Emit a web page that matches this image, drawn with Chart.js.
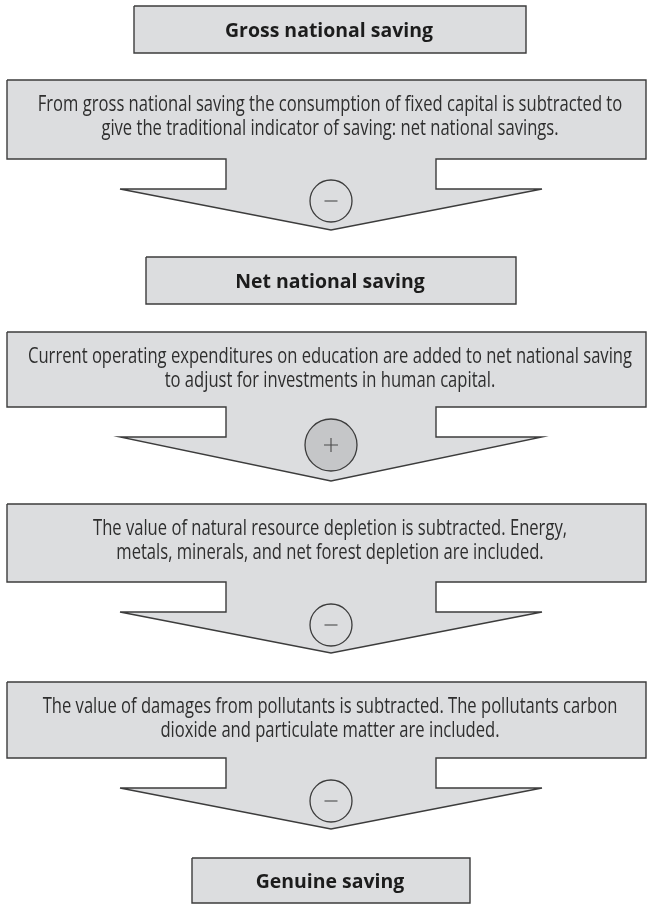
<!DOCTYPE html>
<html>
<head>
<meta charset="utf-8">
<script src="https://cdn.jsdelivr.net/npm/chart.js@4/dist/chart.umd.min.js"></script>
<style>
html,body{margin:0;padding:0;background:#ffffff;}
#wrap{width:647px;height:904px;position:relative;overflow:hidden;}
canvas{display:block;}
</style>
</head>
<body>
<div id="wrap"><canvas id="c" width="647" height="904"></canvas></div>
<script>
// ---- content (data) ----
const stageTitles = ['Gross national saving', 'Net national saving', 'Genuine saving'];
const stepTexts = [
  ['From gross national saving the consumption of fixed capital is subtracted to',
   'give the traditional indicator of saving: net national savings.'],
  ['Current operating expenditures on education are added to net national saving',
   'to adjust for investments in human capital.'],
  ['The value of natural resource depletion is subtracted. Energy,',
   'metals, minerals, and net forest depletion are included.'],
  ['The value of damages from pollutants is subtracted. The pollutants carbon',
   'dioxide and particulate matter are included.']
];
const stepOps = ['minus', 'plus', 'minus', 'minus'];

// ---- layout (diagram coordinate space = 647 x 904) ----
const CX = 331;
const titleBoxX0 = [134, 146, 192];
const titleBoxX1 = [526, 516, 470];
const titleBoxY0 = [6, 257, 858];
const titleBoxY1 = [53, 304, 903];
const stepTop = [80, 332, 504, 682];
const stepBottom = [159, 407, 582, 758];
const stepWing = [189, 437, 612, 788];
const stepTip = [230, 481, 653, 829];
const opCy = [201, 445, 625, 801];
const opR = [21, 26, 21, 21];
const BOX_X0 = 7, BOX_X1 = 646, STEM_X0 = 226, STEM_X1 = 436, WING_X0 = 120, WING_X1 = 542;

const FILL = '#dcdddf';
const EDGE = '#3c3c3c';
const PLUS_FILL = '#c5c6c8';

const datasets = [];
stageTitles.forEach((t, i) => {
  const x0 = titleBoxX0[i], x1 = titleBoxX1[i], y0 = titleBoxY0[i], y1 = titleBoxY1[i];
  datasets.push({
    type: 'scatter', label: t, showLine: true, fill: 'shape',
    data: [{x:x0,y:y0},{x:x1,y:y0},{x:x1,y:y1},{x:x0,y:y1},{x:x0,y:y0}],
    backgroundColor: FILL, borderColor: EDGE, borderWidth: 1.4,
    pointRadius: 0, borderJoinStyle: 'miter', tension: 0, clip: false, order: 5
  });
});
stepTexts.forEach((lines, i) => {
  const t = stepTop[i], b = stepBottom[i], w = stepWing[i], tip = stepTip[i];
  datasets.push({
    type: 'scatter', label: 'step' + i, showLine: true, fill: 'shape',
    data: [
      {x:BOX_X0,y:t},{x:BOX_X1,y:t},{x:BOX_X1,y:b},{x:STEM_X1,y:b},{x:STEM_X1,y:w},
      {x:WING_X1,y:w},{x:CX,y:tip},{x:WING_X0,y:w},{x:STEM_X0,y:w},{x:STEM_X0,y:b},
      {x:BOX_X0,y:b},{x:BOX_X0,y:t}
    ],
    backgroundColor: FILL, borderColor: EDGE, borderWidth: 1.4,
    pointRadius: 0, borderJoinStyle: 'miter', tension: 0, clip: false, order: 5
  });
});
datasets.push({
  type: 'bubble', label: 'ops',
  data: stepOps.map((op, i) => ({x: CX, y: opCy[i], r: opR[i]})),
  backgroundColor: stepOps.map(op => op === 'plus' ? PLUS_FILL : FILL),
  borderColor: EDGE, borderWidth: 1.3, clip: false, order: 2
});
datasets.push({
  type: 'scatter', label: 'signs',
  data: stepOps.map((op, i) => ({x: CX, y: opCy[i]})),
  pointStyle: stepOps.map(op => op === 'plus' ? 'cross' : 'line'),
  pointRadius: stepOps.map(op => op === 'plus' ? 7 : 6.5),
  borderColor: '#4a4a4a', borderWidth: 1.1, backgroundColor: 'transparent',
  clip: false, order: 1
});

const textPlugin = {
  id: 'flowText',
  afterDatasetsDraw(chart) {
    const ctx = chart.ctx, xs = chart.scales.x, ys = chart.scales.y;
    ctx.save();
    ctx.font = '21px "Open Sans", "Noto Sans", sans-serif';
    const regScale = 604 / ctx.measureText(stepTexts[1][0]).width;
    ctx.fillStyle = '#2e2e2e';
    ctx.textAlign = 'center';
    ctx.textBaseline = 'alphabetic';
    stepTexts.forEach((lines, i) => {
      lines.forEach((ln, j) => {
        const px = xs.getPixelForValue(CX - 1);
        const py = ys.getPixelForValue(stepTop[i] + 31 + j * 23.5);
        ctx.save();
        ctx.translate(px, py);
        ctx.scale(regScale, 1);
        ctx.fillText(ln, 0, 0);
        ctx.restore();
      });
    });
    ctx.font = 'bold 20px "Open Sans", "Noto Sans", sans-serif';
    const boldScale = 208 / ctx.measureText(stageTitles[0]).width;
    ctx.fillStyle = '#1c1c1c';
    stageTitles.forEach((t, i) => {
      const px = xs.getPixelForValue((titleBoxX0[i] + titleBoxX1[i]) / 2 - 1);
      const py = ys.getPixelForValue((titleBoxY0[i] + titleBoxY1[i]) / 2 + 7.5);
      ctx.save();
      ctx.translate(px, py);
      ctx.scale(boldScale, 1);
      ctx.fillText(t, 0, 0);
      ctx.restore();
    });
    ctx.restore();
  }
};

new Chart(document.getElementById('c'), {
  type: 'scatter',
  data: { datasets },
  options: {
    responsive: false,
    devicePixelRatio: 1,
    animation: false,
    layout: { padding: 0, autoPadding: false },
    events: [],
    plugins: { legend: { display: false }, tooltip: { enabled: false }, title: { display: false } },
    scales: {
      x: { type: 'linear', min: 0, max: 647, display: false },
      y: { type: 'linear', min: 0, max: 904, reverse: true, display: false }
    }
  },
  plugins: [textPlugin]
});
</script>
</body>
</html>
